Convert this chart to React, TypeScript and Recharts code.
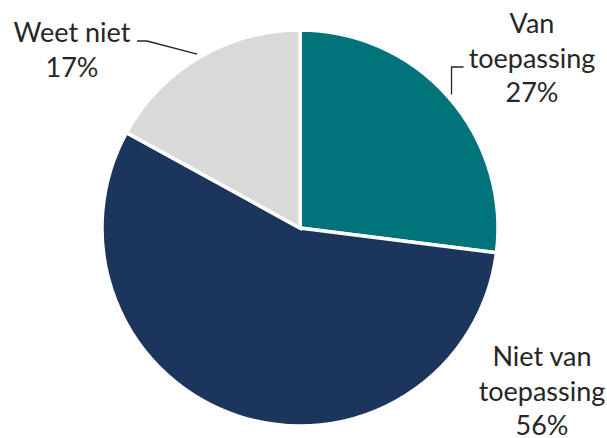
import React from "react";
import { PieChart, Pie, Cell } from "recharts";

const categories = ["Van toepassing", "Niet van toepassing", "Weet niet"];
const values = [27, 56, 17];
const labelLines = [
  ["Van", "toepassing", "27%"],
  ["Niet van", "toepassing", "56%"],
  ["Weet niet", "17%"],
];
const colors = ["#00747A", "#1B355C", "#D9D9D9"];

const data = categories.map((name, i) => ({ name, value: values[i] }));

const FONT = "Lato, 'Noto Sans', sans-serif";
const FS = 27;
const LH = 34.5;
const TEXT = "#262626";
const RAD = Math.PI / 180;

const renderLabel = (props: any) => {
  const { cx, cy, midAngle, outerRadius, index } = props;
  const ex = cx + (outerRadius + 4) * Math.cos(-midAngle * RAD);
  const ey = cy + (outerRadius + 4) * Math.sin(-midAngle * RAD);
  const lines = labelLines[index];
  if (index === 0) {
    const tx = cx + 232;
    const ty0 = cy - 195;
    return (
      <g>
        <polyline
          points={`${ex},${ey} ${ex},${cy - 161} ${ex + 12},${cy - 161}`}
          fill="none"
          stroke="#262626"
          strokeWidth={1.3}
        />
        {lines.map((l, k) => (
          <text key={k} x={tx} y={ty0 + k * LH} textAnchor="middle" fill={TEXT} fontFamily={FONT} fontSize={FS}>
            {l}
          </text>
        ))}
      </g>
    );
  }
  if (index === 1) {
    const tx = cx + 242;
    const ty0 = cy + 138;
    return (
      <g>
        {lines.map((l, k) => (
          <text key={k} x={tx} y={ty0 + k * LH} textAnchor="middle" fill={TEXT} fontFamily={FONT} fontSize={FS}>
            {l}
          </text>
        ))}
      </g>
    );
  }
  const tx = cx - 228;
  const ty0 = cy - 186;
  return (
    <g>
      <polyline
        points={`${ex},${ey} ${cx - 153},${cy - 187} ${cx - 163},${cy - 187}`}
        fill="none"
        stroke="#262626"
        strokeWidth={1.3}
      />
      {lines.map((l, k) => (
        <text key={k} x={tx} y={ty0 + k * LH} textAnchor="middle" fill={TEXT} fontFamily={FONT} fontSize={FS}>
          {l}
        </text>
      ))}
    </g>
  );
};

export default function App() {
  return (
    <div style={{ position: "absolute", left: 0, top: 0, width: 607, height: 438, background: "#fff" }}>
      <PieChart width={607} height={438} margin={{ top: 0, right: 0, bottom: 0, left: 0 }}>
        <Pie
          data={data}
          dataKey="value"
          nameKey="name"
          cx={300}
          cy={228}
          outerRadius={198}
          startAngle={90}
          endAngle={-270}
          stroke="#ffffff"
          strokeWidth={3.5}
          label={renderLabel}
          labelLine={false}
          isAnimationActive={false}
        >
          {data.map((d, i) => (
            <Cell key={d.name} fill={colors[i]} />
          ))}
        </Pie>
      </PieChart>
    </div>
  );
}
